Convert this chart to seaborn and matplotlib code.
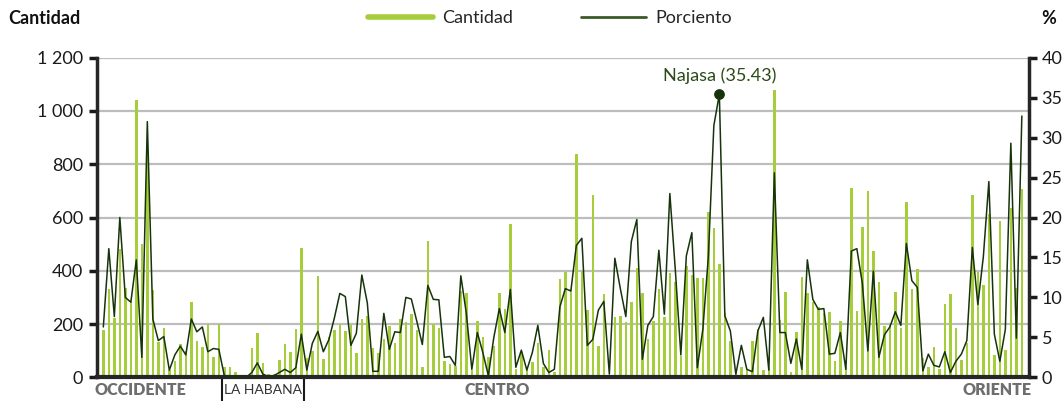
import matplotlib
matplotlib.use("Agg")
import matplotlib.pyplot as plt
import matplotlib.transforms as mtransforms
from matplotlib.lines import Line2D
import seaborn as sns
import numpy as np

# municipios, ordenados de occidente a oriente
cantidad = [
    177, 331, 224, 480, 335, 287, 1042, 502, 850, 327,
    134, 184, 27, 61, 125, 100, 282, 136, 115, 202,
    75, 199, 40, 37, 20, 9, 5, 109, 167, 52,
    12, 12, 65, 125, 96, 181, 484, 71, 99, 380,
    69, 152, 177, 199, 174, 196, 92, 219, 231, 109,
    92, 142, 192, 130, 219, 206, 237, 177, 37, 510,
    202, 184, 61, 50, 42, 325, 315, 27, 212, 150,
    75, 117, 315, 255, 577, 31, 92, 27, 56, 130,
    40, 102, 19, 369, 396, 330, 837, 400, 252, 686,
    117, 311, 10, 227, 231, 209, 282, 409, 315, 142,
    211, 332, 225, 390, 359, 80, 417, 384, 374, 374,
    621, 559, 427, 240, 137, 27, 40, 31, 136, 181,
    27, 40, 1080, 215, 321, 21, 170, 375, 315, 281,
    265, 240, 245, 61, 212, 40, 712, 250, 565, 699,
    474, 356, 192, 202, 321, 184, 659, 330, 405, 74,
    40, 112, 30, 275, 312, 184, 65, 130, 684, 394,
    346, 612, 84, 586, 102, 636, 336, 706,
]
porciento = [
    6.3, 16.1, 7.6, 20.0, 10.0, 9.4, 14.7, 2.5, 32.0, 7.3,
    4.6, 5.1, 0.9, 2.8, 3.9, 2.8, 7.3, 5.7, 6.3, 3.2,
    3.6, 3.5, 0.2, 0.2, 0.1, 0.0, 0.0, 0.6, 1.8, 0.4,
    0.1, 0.2, 0.6, 1.0, 0.6, 1.2, 5.4, 0.9, 4.25, 5.75,
    3.2, 4.7, 7.4, 10.5, 10.1, 4.0, 5.5, 12.8, 9.3, 0.75,
    0.75, 8.0, 3.5, 5.7, 5.6, 10.0, 9.8, 7.0, 4.1, 11.5,
    9.75, 9.7, 2.5, 2.6, 1.5, 12.7, 8.0, 1.0, 5.6, 3.1,
    0.2, 5.0, 8.6, 5.6, 11.0, 1.25, 3.4, 0.9, 3.1, 6.5,
    1.75, 0.6, 1.0, 8.8, 11.1, 10.8, 16.5, 17.4, 4.0, 4.75,
    8.4, 9.5, 0.4, 14.9, 11.1, 7.6, 17.0, 19.75, 2.25, 6.5,
    7.6, 15.9, 7.9, 23.0, 13.4, 2.8, 15.2, 18.1, 1.2, 6.0,
    15.1, 31.5, 35.43, 7.7, 5.8, 0.4, 4.0, 1.0, 0.7, 5.8,
    7.5, 0.9, 25.6, 5.6, 5.6, 1.75, 4.8, 1.0, 14.7, 9.75,
    8.5, 8.6, 2.9, 3.0, 5.6, 1.0, 15.8, 16.1, 11.75, 3.3,
    13.3, 2.5, 5.3, 6.3, 8.2, 6.5, 16.75, 12.1, 11.25, 0.8,
    2.9, 1.5, 1.3, 3.2, 0.6, 2.0, 2.9, 4.6, 16.25, 9.1,
    15.1, 24.5, 5.4, 2.0, 6.0, 29.3, 4.9, 32.7,
]
regiones = ["OCCIDENTE", "LA HABANA", "CENTRO", "ORIENTE"]
region_pos = [6.7, 29.0, 71.6, 162.5]
divisiones = [21.5, 36.5]
destacado = 112
destacado_nombre = "Najasa"

yticks_left = [0, 200, 400, 600, 800, 1000, 1200]
yticks_right = [0, 5, 10, 15, 20, 25, 30, 35, 40]

verde = "#a6cd3c"
oscuro = "#17330c"
rotulo = "#2b4a17"

sns.set_style("white")
plt.rcParams["font.family"] = ["Liberation Sans Narrow", "Lato", "DejaVu Sans"]

idx = np.arange(len(cantidad))

fig = plt.figure(figsize=(10.63, 4.01), dpi=100)
ax = fig.add_axes([97 / 1063, 23.7 / 401, 932 / 1063, 319.6 / 401])

sns.barplot(x=idx, y=cantidad, color=verde, saturation=1, width=0.45,
            linewidth=0, ax=ax)
ax.set_axisbelow(True)
ax.set_ylim(0, 1200)
ax.set_xlim(-1.15, 168.3)
ax.set_yticks(yticks_left)
ax.set_yticklabels([f"{v:,}".replace(",", " ") for v in yticks_left])
ax.yaxis.grid(True, color="#bdbdbd", lw=1.6)
ax.set_xticks([])
ax.set_xlabel("")
ax.set_ylabel("")
ax.spines["top"].set_visible(False)
ax.spines["right"].set_visible(False)
ax.spines["left"].set_linewidth(2.5)
ax.spines["bottom"].set_linewidth(3)
ax.tick_params(axis="y", direction="out", length=6, width=2.5, labelsize=13,
               colors="#1a1a1a", pad=4)

ax2 = ax.twinx()
sns.lineplot(x=idx, y=porciento, color=oscuro, lw=1.1, ax=ax2)
ax2.set_ylim(0, 40)
ax2.set_xlim(-1.15, 168.3)
ax2.set_yticks(yticks_right)
ax2.set_ylabel("")
for s in ["top", "left", "bottom"]:
    ax2.spines[s].set_visible(False)
ax2.spines["right"].set_linewidth(2.5)
ax2.tick_params(axis="y", direction="out", length=6, width=2.5, labelsize=13,
                colors="#1a1a1a", pad=3)

# punto destacado
ax2.scatter([destacado], [porciento[destacado]], s=45, color=oscuro, zorder=5)
ax2.text(destacado, porciento[destacado] + 1.3,
         f"{destacado_nombre} ({porciento[destacado]:.2f})",
         ha="center", va="bottom", fontsize=13, color=rotulo)

# regiones bajo el eje
trans = mtransforms.blended_transform_factory(ax.transData, ax.transAxes)
for d in divisiones:
    ax.plot([d, d], [0, -0.08], color="#1a1a1a", lw=1.5, transform=trans, clip_on=False)
for nombre, p in zip(regiones, region_pos):
    if nombre == "LA HABANA":
        ax.text(p, -0.04, nombre, transform=trans, ha="center", va="center",
                fontsize=10, color="#333333")
    else:
        ax.text(p, -0.04, nombre, transform=trans, ha="center", va="center",
                fontsize=11.5, fontweight="heavy", color="#6e6e6e")

fig.text(8 / 1063, 0.955, "Cantidad", ha="left", va="center", fontsize=13, fontweight="bold",
         color="#111111")
fig.text(1049 / 1063, 0.955, "%", ha="center", va="center", fontsize=13, fontweight="bold",
         color="#111111")

handles = [Line2D([], [], color=verde, lw=4), Line2D([], [], color="#3a5a28", lw=2)]
fig.legend(handles, ["Cantidad", "Porciento"], loc="center", bbox_to_anchor=(550 / 1063, 0.955),
           ncol=2, frameon=False, fontsize=13, handlelength=3.6, columnspacing=3.8,
           handletextpad=0.5)

fig.savefig("out.png", dpi=100)
